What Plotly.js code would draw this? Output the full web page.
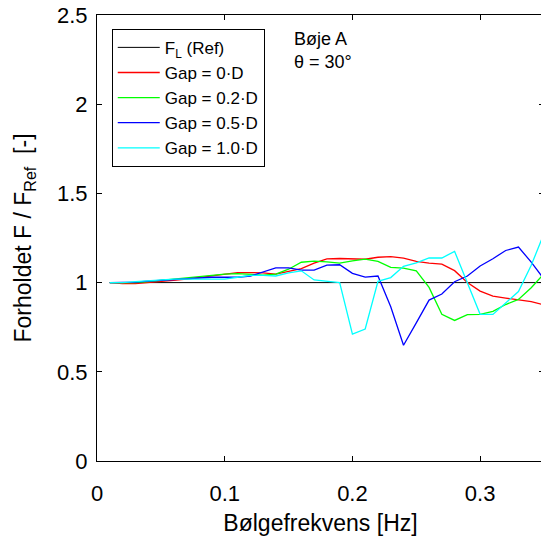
<!DOCTYPE html>
<html>
<head>
<meta charset="utf-8">
<script src="https://cdn.plot.ly/plotly-3.0.1.min.js"></script>
<style>
html,body{margin:0;padding:0;overflow:hidden;background:#fff;}
#chart{width:544px;height:545px;}
</style>
</head>
<body>
<div id="chart"></div>
<script>
// Frequencies [Hz]
var freq = [0.01,0.02,0.03,0.04,0.05,0.06,0.07,0.08,0.09,0.10,
            0.11,0.12,0.13,0.14,0.15,0.16,0.17,0.18,0.19,0.20,
            0.21,0.22,0.23,0.24,0.25,0.26,0.27,0.28,0.29,0.30,
            0.31,0.32,0.33,0.34,0.35];
// Reference line F_L (Ref)
var refX = [0.01, 0.35];
var refY = [1, 1];
// Gap = 0·D
var gap0 = [1.0,0.995,0.995,1.0,1.005,1.012,1.02,1.03,1.038,1.05,
            1.056,1.056,1.055,1.048,1.062,1.078,1.109,1.133,1.135,1.131,
            1.131,1.142,1.146,1.137,1.119,1.109,1.103,1.067,1.001,0.952,
            0.924,0.913,0.902,0.893,0.875];
// Gap = 0.2·D
var gap02 = [1.0,0.998,1.0,1.005,1.012,1.02,1.028,1.036,1.042,1.048,
             1.05,1.045,1.042,1.047,1.075,1.114,1.12,1.116,1.109,1.122,
             1.131,1.119,1.085,1.081,1.066,0.973,0.822,0.788,0.82,0.822,
             0.839,0.877,0.906,0.971,1.05];
// Gap = 0.5·D
var gap05 = [1.0,1.0,1.003,1.008,1.013,1.018,1.023,1.028,1.03,1.03,
             1.03,1.037,1.058,1.082,1.082,1.07,1.07,1.098,1.1,1.052,
             1.031,1.037,0.865,0.649,0.774,0.902,0.936,1.005,1.037,1.093,
             1.134,1.18,1.199,1.115,1.02];
// Gap = 1.0·D
var gap10 = [1.0,1.0,1.005,1.01,1.015,1.02,1.02,1.019,1.019,1.02,
             1.03,1.04,1.04,1.037,1.055,1.066,1.015,1.007,1.0,0.711,
             0.74,1.007,1.028,1.091,1.11,1.138,1.138,1.175,0.998,0.822,
             0.822,0.884,0.95,1.097,1.275];

var names = ['F<sub>L</sub> (Ref)', 'Gap = 0·D', 'Gap = 0.2·D', 'Gap = 0.5·D', 'Gap = 1.0·D'];
var yTicks = [0, 0.5, 1, 1.5, 2, 2.5];
var yTickText = ['0', '0.5', '1', '1.5', '2', '2.5'];
var xTicks = [0, 0.1, 0.2, 0.3];
var xTickText = ['0', '0.1', '0.2', '0.3'];

var FONT = 'Liberation Sans, Arial, Helvetica, sans-serif';

var traces = [
  {x: refX, y: refY, name: names[0], mode: 'lines', line: {color: '#000000', width: 1}},
  {x: freq, y: gap0, name: names[1], mode: 'lines', line: {color: '#ff0000', width: 1.3}},
  {x: freq, y: gap02, name: names[2], mode: 'lines', line: {color: '#00ff00', width: 1.3}},
  {x: freq, y: gap05, name: names[3], mode: 'lines', line: {color: '#0000ff', width: 1.3}},
  {x: freq, y: gap10, name: names[4], mode: 'lines', line: {color: '#00ffff', width: 1.3}}
];

var layout = {
  width: 544, height: 545,
  margin: {l: 97, r: 0, t: 15, b: 84, pad: 0},
  paper_bgcolor: '#ffffff', plot_bgcolor: '#ffffff',
  font: {family: FONT, color: '#000000', size: 22},
  showlegend: true,
  legend: {
    x: 0.033, y: 0.969, xanchor: 'left', yanchor: 'top',
    bgcolor: '#ffffff', bordercolor: '#000000', borderwidth: 1,
    font: {family: FONT, size: 17, color: '#000000'},
    itemwidth: 42, tracegroupgap: 0
  },
  xaxis: {
    range: [0, 0.35], tickvals: xTicks, ticktext: xTickText,
    ticks: 'inside', ticklen: 5, tickwidth: 1, tickcolor: '#000',
    showline: true, linecolor: '#000', linewidth: 1, mirror: 'ticks',
    showgrid: false, zeroline: false,
    tickfont: {family: FONT, size: 22},
    ticklabelstandoff: 13,
    title: {text: 'Bølgefrekvens [Hz]', font: {family: FONT, size: 23}, standoff: 9}
  },
  yaxis: {
    range: [0, 2.5], tickvals: yTicks, ticktext: yTickText,
    ticks: 'inside', ticklen: 5, tickwidth: 1, tickcolor: '#000',
    showline: true, linecolor: '#000', linewidth: 1, mirror: 'ticks',
    showgrid: false, zeroline: false,
    tickfont: {family: FONT, size: 22},
    ticklabelstandoff: 4,
    title: {text: 'Forholdet F / F<sub>Ref</sub>  [-]', font: {family: FONT, size: 23}, standoff: 18}
  },
  annotations: [{
    xref: 'paper', yref: 'paper', x: 0.436, y: 0.972,
    xanchor: 'left', yanchor: 'top', align: 'left', showarrow: false,
    text: 'Bøje A<br>θ = 30°', font: {family: FONT, size: 18, color: '#000'}
  }]
};

Plotly.newPlot('chart', traces, layout, {displayModeBar: false, staticPlot: true});
</script>
</body>
</html>
